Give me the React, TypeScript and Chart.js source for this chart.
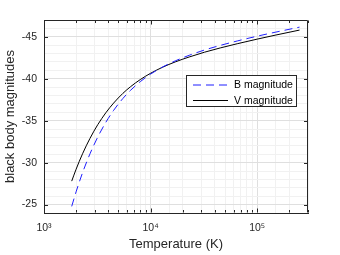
import React, { useEffect, useRef } from 'react';
import { Chart, registerables } from 'chart.js';

Chart.register(...registerables);

// ---- data ----
const temperatures = [1820, 2000, 2300, 2700, 3200, 3800, 4500, 5500, 6500, 8000, 10000, 13000, 17000, 23000, 32000, 45000, 65000, 100000, 150000, 250000];
const bMagnitude = [-24.79, -26.52, -28.8, -31.05, -33.07, -34.8, -36.23, -37.65, -38.63, -39.65, -40.55, -41.41, -42.12, -42.79, -43.42, -43.97, -44.5, -45.07, -45.56, -46.15];
const vMagnitude = [-27.8, -29.21, -31.06, -32.89, -34.54, -35.94, -37.1, -38.26, -39.06, -39.9, -40.65, -41.38, -42.0, -42.59, -43.16, -43.67, -44.17, -44.72, -45.21, -45.8];

const xTickLabels: Record<number, string> = { 1000: '10³', 10000: '10⁴', 100000: '10⁵' };
const yMajorTicks = [-45, -40, -35, -30, -25];
const legendLabels = ['B magnitude', 'V magnitude'];
const xTitle = 'Temperature (K)';
const yTitle = 'black body magnitudes';
const xMin = 1000;
const xMax = 300000;
const yMin = -47;
const yMax = -24;

const FONT = '"Liberation Sans", Arial, Helvetica, sans-serif';
const TEXT = '#262626';
const BLUE = '#1f1fff';
const MAJOR_GRID = '#dfdfdf';
const MINOR_GRID = '#f1f1f1';

const isDecade = (v: number) => {
  const l = Math.log10(v);
  return Math.abs(l - Math.round(l)) < 1e-9;
};

const boxPlugin = {
  id: 'matlabBox',
  afterDraw(chart: any) {
    const { ctx, chartArea: a, scales } = chart;
    const L = Math.round(a.left) + 0.5;
    const R = Math.round(a.right) - 0.5;
    const T = Math.round(a.top) + 0.5;
    const B = Math.round(a.bottom) - 0.5;
    ctx.save();
    ctx.strokeStyle = TEXT;
    ctx.lineWidth = 1;
    ctx.beginPath();
    ctx.moveTo(L, T);
    ctx.lineTo(R, T);
    ctx.lineTo(R, B);
    ctx.stroke();

    // inner ticks on x (bottom & top)
    ctx.beginPath();
    for (let e = 3; e <= 5; e++) {
      for (let m = 1; m <= 9; m++) {
        const v = m * Math.pow(10, e);
        if (v < xMin || v > xMax) continue;
        const px = Math.round(scales.x.getPixelForValue(v)) + 0.5;
        const len = m === 1 ? 4 : 2.5;
        ctx.moveTo(px, B);
        ctx.lineTo(px, B - len);
        ctx.moveTo(px, T);
        ctx.lineTo(px, T + len);
      }
    }
    // inner ticks on y (left & right)
    for (const v of yMajorTicks) {
      const py = Math.round(scales.y.getPixelForValue(v)) + 0.5;
      ctx.moveTo(L, py);
      ctx.lineTo(L + 3.5, py);
      ctx.moveTo(R, py);
      ctx.lineTo(R - 3.5, py);
    }
    ctx.stroke();

    // legend
    const bx = Math.round(a.left + 142) + 0.5;
    const by = Math.round(a.top + 55) + 0.5;
    const bw = 110;
    const bh = 31;
    ctx.fillStyle = '#ffffff';
    ctx.fillRect(bx, by, bw, bh);
    ctx.strokeStyle = TEXT;
    ctx.strokeRect(bx, by, bw, bh);

    const rows = [by + 9.5, by + 25];
    const x0 = bx + 6.5;
    const x1 = bx + 41.5;
    ctx.lineWidth = 1;
    ctx.strokeStyle = BLUE;
    ctx.setLineDash([8, 5]);
    ctx.beginPath();
    ctx.moveTo(x0, rows[0]);
    ctx.lineTo(x1, rows[0]);
    ctx.stroke();
    ctx.setLineDash([]);
    ctx.strokeStyle = '#000000';
    ctx.beginPath();
    ctx.moveTo(x0, rows[1]);
    ctx.lineTo(x1, rows[1]);
    ctx.stroke();

    ctx.fillStyle = '#000000';
    ctx.font = `10.5px ${FONT}`;
    ctx.textBaseline = 'middle';
    ctx.textAlign = 'left';
    ctx.fillText(legendLabels[0], bx + 47.5, rows[0] + 0.5);
    ctx.fillText(legendLabels[1], bx + 47.5, rows[1] + 0.5);
    ctx.restore();
  },
};

export default function App() {
  const ref = useRef<HTMLCanvasElement | null>(null);

  useEffect(() => {
    if (!ref.current) return;
    const chart = new Chart(ref.current, {
      type: 'line',
      data: {
        datasets: [
          {
            label: legendLabels[0],
            data: temperatures.map((t, i) => ({ x: t, y: bMagnitude[i] })),
            borderColor: BLUE,
            borderWidth: 1,
            borderDash: [8, 5],
            pointRadius: 0,
            fill: false,
            cubicInterpolationMode: 'monotone',
          },
          {
            label: legendLabels[1],
            data: temperatures.map((t, i) => ({ x: t, y: vMagnitude[i] })),
            borderColor: '#000000',
            borderWidth: 1,
            pointRadius: 0,
            fill: false,
            cubicInterpolationMode: 'monotone',
          },
        ],
      },
      options: {
        responsive: false,
        animation: false,
        layout: { padding: { left: 0, top: 20, right: 32, bottom: 0 } },
        plugins: {
          legend: { display: false },
          tooltip: { enabled: false },
        },
        scales: {
          x: {
            type: 'logarithmic',
            min: xMin,
            max: xMax,
            afterFit: (s: any) => {
              s.height = 42;
            },
            border: { display: true, color: TEXT, width: 1 },
            grid: {
              drawTicks: false,
              color: (c: any) => (c.tick && isDecade(c.tick.value) ? MAJOR_GRID : MINOR_GRID),
              lineWidth: 1,
            },
            ticks: {
              autoSkip: false,
              maxRotation: 0,
              padding: 9,
              color: TEXT,
              font: { size: 10.5, family: FONT },
              callback: (v: any) => xTickLabels[Math.round(Number(v))] ?? '',
            },
            title: {
              display: true,
              text: xTitle,
              color: TEXT,
              font: { size: 13, family: FONT },
              padding: { top: 0, bottom: 2.5 },
            },
          },
          y: {
            type: 'linear',
            reverse: true,
            min: yMin,
            max: yMax,
            afterFit: (s: any) => {
              s.width = 44;
            },
            border: { display: true, color: TEXT, width: 1 },
            grid: {
              drawTicks: false,
              color: (c: any) => (c.tick && Math.round(c.tick.value) % 5 === 0 ? MAJOR_GRID : MINOR_GRID),
              lineWidth: 1,
            },
            ticks: {
              stepSize: 1,
              maxTicksLimit: 100,
              autoSkip: false,
              padding: 7,
              color: TEXT,
              font: { size: 10.5, family: FONT },
              callback: (v: any) => (Number(v) % 5 === 0 ? String(v) : ''),
            },
            title: {
              display: true,
              text: yTitle,
              color: TEXT,
              font: { size: 13, family: FONT },
              padding: { top: 3, bottom: 0 },
            },
          },
        },
      },
      plugins: [boxPlugin],
    } as any);
    return () => chart.destroy();
  }, []);

  return (
    <div style={{ position: 'fixed', left: 0, top: 0, width: 340, height: 255, background: '#fff' }}>
      <canvas ref={ref} width={340} height={255} style={{ display: 'block' }} />
    </div>
  );
}
